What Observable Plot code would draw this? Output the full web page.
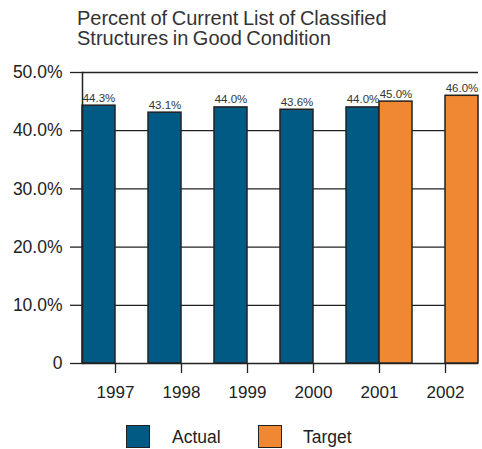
<!DOCTYPE html>
<html><head><meta charset="utf-8">
<script src="https://cdn.jsdelivr.net/npm/d3@7"></script>
<script src="https://cdn.jsdelivr.net/npm/@observablehq/plot@0.6"></script>
<style>
html,body{margin:0;padding:0;background:#fff}
body{font-family:"Liberation Sans",Arial,sans-serif;color:#222;width:482px;height:449px;overflow:hidden}
#title{box-sizing:border-box;height:55px;padding:8px 0 0 77px;font-size:20px;line-height:20px;color:#333;word-spacing:-1px}
#chart svg{display:block}
#legend{position:relative;height:44px}
.sw{position:absolute;top:20px;width:22px;height:21px;border:1.5px solid #222}
.lb{position:absolute;top:20px;font-size:17.5px;line-height:24px}
</style>
</head><body>
<div id="title">Percent of Current List of Classified<br>Structures in Good Condition</div>
<div id="chart"></div>
<div id="legend"></div>
<script>
const years = ["1997", "1998", "1999", "2000", "2001", "2002"];
const actual = [44.3, 43.1, 44.0, 43.6, 44.0, null];
const target = [null, null, null, null, 45.0, 46.0];
const series = ["Actual", "Target"];
const colors = ["#005a84", "#ef8733"];
const yTicks = [0, 10, 20, 30, 40, 50];

const rows = [];
years.forEach((yr, i) => {
  if (actual[i] != null) rows.push({year: yr, series: "Actual", value: actual[i]});
  if (target[i] != null) rows.push({year: yr, series: "Target", value: target[i]});
});

const chart = Plot.plot({
  width: 482, height: 350,
  marginTop: 17, marginBottom: 42, marginLeft: 80, marginRight: 2,
  style: {fontFamily: '"Liberation Sans", Arial, sans-serif', fontSize: "17.5px", color: "#222", background: "white"},
  fx: {domain: years, padding: 0, label: null, axis: null},
  x: {domain: series, padding: 0, axis: null},
  y: {domain: [0, 50], label: null, axis: null},
  color: {domain: series, range: colors},
  marks: [
    Plot.gridY(yTicks, {stroke: "#222", strokeOpacity: 1, strokeWidth: 1.3}),
    Plot.barY(rows, {fx: "year", x: "series", y: "value", fill: "series", stroke: "#222", strokeWidth: 1.5}),
    Plot.text(rows, {fx: "year", x: "series", y: "value", text: d => d.value.toFixed(1) + "%", lineAnchor: "bottom", dy: -4, fontSize: 11.5, fill: "#333"}),
    Plot.axisY(yTicks, {tickSize: 12, tickPadding: 8, tickFormat: d => d === 0 ? "0" : d.toFixed(1) + "%", label: null, stroke: "#222", strokeWidth: 1.3}),
    Plot.axisFx({anchor: "bottom", tickSize: 10, tickPadding: 12, label: null, fontSize: 17, stroke: "#222", strokeWidth: 1.3}),
    Plot.frame({anchor: "left", facet: "super", stroke: "#222", strokeWidth: 1.5})
  ]
});
document.getElementById("chart").appendChild(chart);

const legend = document.getElementById("legend");
const swX = [126, 258], lbX = [172, 303];
series.forEach((s, i) => {
  const sw = document.createElement("div");
  sw.className = "sw"; sw.style.left = swX[i] + "px"; sw.style.background = colors[i];
  legend.appendChild(sw);
  const lb = document.createElement("div");
  lb.className = "lb"; lb.style.left = lbX[i] + "px"; lb.textContent = s;
  legend.appendChild(lb);
});
</script>
</body></html>
